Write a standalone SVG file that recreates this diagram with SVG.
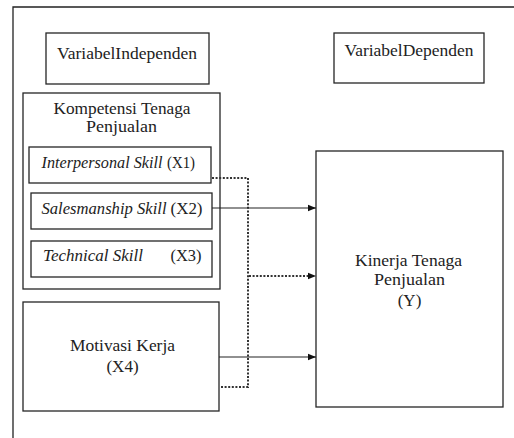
<svg xmlns="http://www.w3.org/2000/svg" width="514" height="438" viewBox="0 0 514 438">
<style>
  .box{fill:#fff;stroke:#262626;stroke-width:1.3}
  .t{font-family:"Liberation Serif","Times New Roman",serif;font-size:17px;fill:#222}
  .i{font-style:italic}
  .m{text-anchor:middle}
  .solid{stroke:#222;stroke-width:1.2;fill:none}
  .dot{stroke:#333;stroke-width:2;stroke-dasharray:2 1.6;fill:none}
</style>
<defs>
  <marker id="ah" markerWidth="8" markerHeight="8" refX="8" refY="4" orient="auto" markerUnits="userSpaceOnUse">
    <path d="M0,0.8 L8,4 L0,7.2 Z" fill="#111"/>
  </marker>
</defs>
<rect width="514" height="438" fill="#fff"/>
<g id="frame"><path d="M13,438 V7 H514" fill="none" stroke="#222" stroke-width="1.3"/></g>

<g id="hdr-independen">
  <rect class="box" x="46" y="33" width="163" height="51"/>
  <text class="t m" x="127" y="59" textLength="140" lengthAdjust="spacingAndGlyphs">VariabelIndependen</text>
</g>
<g id="hdr-dependen">
  <rect class="box" x="334" y="33" width="150" height="50"/>
  <text class="t m" x="409" y="56" textLength="129" lengthAdjust="spacingAndGlyphs">VariabelDependen</text>
</g>

<g id="kompetensi">
  <rect class="box" x="23" y="93" width="197" height="196"/>
  <text class="t m" x="122" y="114" textLength="137" lengthAdjust="spacingAndGlyphs">Kompetensi Tenaga</text>
  <text class="t m" x="121.5" y="132" textLength="71" lengthAdjust="spacingAndGlyphs">Penjualan</text>
</g>
<g id="x1">
  <rect class="box" x="29" y="147" width="182" height="36"/>
  <text class="t i" x="41.5" y="168" textLength="121" lengthAdjust="spacingAndGlyphs">Interpersonal Skill</text>
  <text class="t" x="167" y="168" textLength="28" lengthAdjust="spacingAndGlyphs">(X1)</text>
</g>
<g id="x2">
  <rect class="box" x="31" y="193" width="181" height="36"/>
  <text class="t i" x="41.5" y="214" textLength="125" lengthAdjust="spacingAndGlyphs">Salesmanship Skill</text>
  <text class="t" x="170.5" y="214" textLength="32" lengthAdjust="spacingAndGlyphs">(X2)</text>
</g>
<g id="x3">
  <rect class="box" x="31" y="241" width="181" height="36"/>
  <text class="t i" x="43" y="261" textLength="100" lengthAdjust="spacingAndGlyphs">Technical Skill</text>
  <text class="t" x="170.5" y="261" textLength="31" lengthAdjust="spacingAndGlyphs">(X3)</text>
</g>

<g id="x4">
  <rect class="box" x="23" y="302" width="196" height="109"/>
  <text class="t m" x="122.5" y="351" textLength="105" lengthAdjust="spacingAndGlyphs">Motivasi Kerja</text>
  <text class="t m" x="122.5" y="372">(X4)</text>
</g>

<g id="y">
  <rect class="box" x="316" y="151" width="187" height="256"/>
  <text class="t m" x="408.5" y="265.5" textLength="107" lengthAdjust="spacingAndGlyphs">Kinerja Tenaga</text>
  <text class="t m" x="409.5" y="285" textLength="71" lengthAdjust="spacingAndGlyphs">Penjualan</text>
  <text class="t m" x="409.5" y="306">(Y)</text>
</g>

<g id="connectors">
  <path class="dot" d="M212,178 H248 V387 H220"/>
  <path class="dot" d="M249,276 H308"/>
  <path d="M308,276 H316" stroke="#333" stroke-width="0.1" marker-end="url(#ah)"/>
  <path class="solid" d="M212,208 H316" marker-end="url(#ah)"/>
  <path class="solid" d="M219,357 H316" marker-end="url(#ah)"/>
</g>
</svg>
